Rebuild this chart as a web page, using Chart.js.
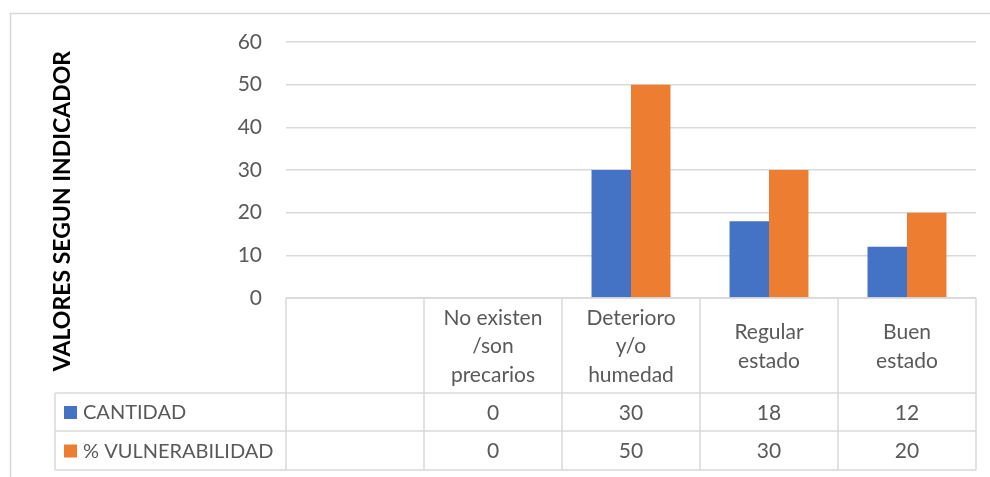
<!DOCTYPE html>
<html>
<head>
<meta charset="utf-8">
<script src="https://cdn.jsdelivr.net/npm/chart.js@4.4.1/dist/chart.umd.min.js"></script>
<style>
  html, body { margin: 0; padding: 0; background: #ffffff; }
  #wrap { width: 990px; height: 477px; position: relative; }
</style>
</head>
<body>
<div id="wrap"><canvas id="c" width="990" height="477"></canvas></div>
<script>
// Categories (first column of the table is left blank)
const categories = [
  [],
  ['No existen', '/son', 'precarios'],
  ['Deterioro', 'y/o', 'humedad'],
  ['Regular', 'estado'],
  ['Buen', 'estado']
];
const seriesNames = ['CANTIDAD', '% VULNERABILIDAD'];
const cantidad = [null, 0, 30, 18, 12];
const vulnerabilidad = [null, 0, 50, 30, 20];
const yTicks = [0, 10, 20, 30, 40, 50, 60];
const axisTitle = 'VALORES SEGUN INDICADOR';

const COLORS = ['#4472C4', '#ED7D31'];
const LINE = '#d9d9d9';
const TEXT = '#595959';
const FONT = 'Lato, "Open Sans", sans-serif';

// Data table drawn under the plot area, with legend keys in the first column
const tablePlugin = {
  id: 'dataTable',
  afterDraw(chart) {
    const ctx = chart.ctx;
    const x = chart.scales.x;
    const area = chart.chartArea;
    const n = categories.length;
    const step = (area.right - area.left) / n;
    const top = area.bottom;
    const hdrBottom = 393;
    const row1Bottom = 431;
    const row2Bottom = 470;
    const tableLeft = 55;
    ctx.save();
    ctx.strokeStyle = LINE;
    ctx.lineWidth = 1.5;
    const h = (x1, x2, y) => { ctx.beginPath(); ctx.moveTo(x1, y); ctx.lineTo(x2, y); ctx.stroke(); };
    const v = (xx, y1, y2) => { ctx.beginPath(); ctx.moveTo(xx, y1); ctx.lineTo(xx, y2); ctx.stroke(); };

    // outer chart frame
    h(10, 990, 13.5);
    v(10.5, 13, 477);

    h(area.left, area.right, top);
    h(tableLeft, area.right, hdrBottom);
    h(tableLeft, area.right, row1Bottom);
    h(tableLeft, area.right, row2Bottom);
    v(tableLeft, hdrBottom, row2Bottom);
    for (let i = 0; i <= n; i++) {
      v(area.left + i * step, top, row2Bottom);
    }

    // header labels
    ctx.fillStyle = TEXT;
    ctx.font = '21px ' + FONT;
    ctx.textAlign = 'center';
    ctx.textBaseline = 'middle';
    const lh = 28.5;
    categories.forEach((lines, i) => {
      const cx = x.getPixelForValue(i);
      const cy = (top + hdrBottom) / 2 + 1;
      lines.forEach((t, j) => {
        ctx.fillText(t, cx, cy + (j - (lines.length - 1) / 2) * lh);
      });
    });

    // value rows
    const rows = [cantidad, vulnerabilidad];
    const rowMid = [(hdrBottom + row1Bottom) / 2 + 1, (row1Bottom + row2Bottom) / 2 + 1];
    rows.forEach((vals, r) => {
      ctx.font = '21px ' + FONT;
      vals.forEach((val, i) => {
        if (val === null) return;
        ctx.fillText(String(val), x.getPixelForValue(i), rowMid[r]);
      });
      // legend key + series name
      ctx.fillStyle = COLORS[r];
      ctx.fillRect(64, rowMid[r] - 7, 13, 13);
      ctx.fillStyle = TEXT;
      ctx.textAlign = 'left';
      ctx.font = '20px ' + FONT;
      ctx.fillText(seriesNames[r], 83, rowMid[r]);
      ctx.textAlign = 'center';
    });

    // vertical axis title
    ctx.fillStyle = '#000000';
    ctx.font = 'bold 23px ' + FONT;
    ctx.translate(63, 211);
    ctx.rotate(-Math.PI / 2);
    ctx.fillText(axisTitle, 0, 0);
    ctx.restore();
  }
};

new Chart(document.getElementById('c'), {
  type: 'bar',
  data: {
    labels: categories.map(c => c.join(' ')),
    datasets: [
      { label: seriesNames[0], data: cantidad, backgroundColor: COLORS[0] },
      { label: seriesNames[1], data: vulnerabilidad, backgroundColor: COLORS[1] }
    ]
  },
  options: {
    responsive: false,
    animation: false,
    layout: { padding: { left: 52, right: 14, top: 42, bottom: 179 } },
    plugins: { legend: { display: false }, tooltip: { enabled: false } },
    datasets: { bar: { categoryPercentage: 0.572, barPercentage: 1.0 } },
    scales: {
      x: { display: false },
      y: {
        min: 0, max: 60,
        afterBuildTicks(scale) { scale.ticks = yTicks.map(v => ({ value: v })); },
        afterFit(scale) { scale.width = 286 - 52; },
        border: { display: false },
        grid: { color: LINE, lineWidth: 1.5, drawTicks: false },
        ticks: { padding: 24, color: TEXT, font: { family: FONT, size: 21 } }
      }
    }
  },
  plugins: [tablePlugin]
});
</script>
</body>
</html>
